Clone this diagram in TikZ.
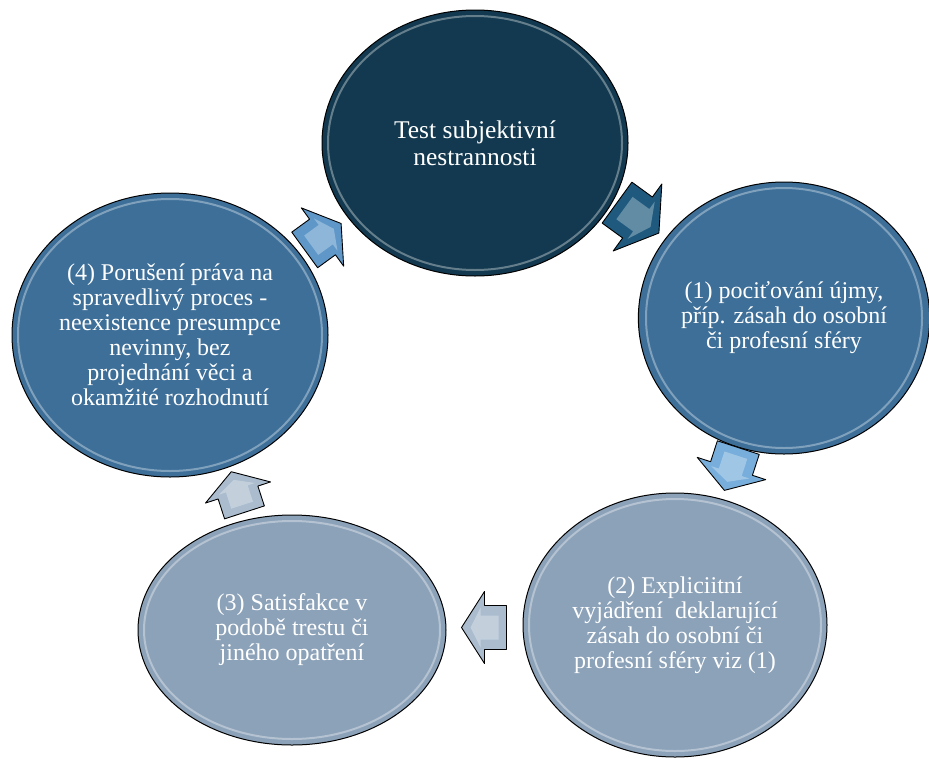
\documentclass[tikz,border=0pt]{standalone}
\usepackage{fontspec}
\setmainfont{Liberation Serif}
\usetikzlibrary{shapes.geometric,calc}

\definecolor{navy}{HTML}{12394F}
\definecolor{steel}{HTML}{3D6F99}
\definecolor{haze}{HTML}{8CA2B9}
\definecolor{arrdark}{HTML}{1F5A7E}
\definecolor{arrsky}{HTML}{78AEDB}
\definecolor{arrpale}{HTML}{AABCCE}
\definecolor{arrmid}{HTML}{5E97C8}

\tikzset{
  stage/.style={ellipse, draw=black, line width=1pt, text=white, align=center,
    inner sep=0pt, font=\fontsize{24}{25}\selectfont},
  rim/.style={draw=white, draw opacity=0.35, line width=2pt},
  blockarrow/.style={draw=black, line width=0.9pt, line join=round}
}

\begin{document}
\begin{tikzpicture}[x=1pt,y=-1pt]
  \useasboundingbox (0,0) rectangle (929,758);
  % Stages of the cycle
  \node[stage, fill=navy, minimum width=306pt, minimum height=266pt,
    font=\fontsize{25.5}{27}\selectfont] (test) at (475,143) {Test subjektivní\\nestrannosti};
  \node[stage, fill=steel, minimum width=288pt, minimum height=272pt] (one) at (784,318)
    {(1) pociťování újmy,\\příp. zásah do osobní\\či profesní sféry};
  \node[stage, fill=haze, minimum width=304pt, minimum height=264pt] (two) at (675,625)
    {(2) Expliciitní\\vyjádření~ deklarující\\zásah do osobní či\\profesní sféry viz (1)};
  \node[stage, fill=haze, minimum width=308pt, minimum height=230pt] (three) at (292,630)
    {(3) Satisfakce v\\podobě trestu či\\jiného opatření};
  \node[stage, fill=steel, minimum width=316pt, minimum height=284pt] (four) at (170,335)
    {(4) Porušení práva na\\spravedlivý proces -\\neexistence presumpce\\nevinny, bez\\projednání věci a\\okamžité rozhodnutí};
  % Glossy rims
  \foreach \n/\rx/\ry in {test/147/127, one/138/130, two/146/126, three/148/109, four/152/136}
    \draw[rim] (\n.center) ellipse [x radius=\rx, y radius=\ry];
  % Block arrows between stages
  \foreach \a/\b/\ang/\s/\col/\dx/\dy in {test/one/-36/1.15/arrdark/8/-13,
      one/two/-108/1/arrsky/2/-3, two/three/180/1/arrpale/1/0,
      three/four/108/0.95/arrpale/7/10, four/test/36/1/arrmid/0/-2}
  {
    \begin{scope}[shift={($(\a)!0.5!(\b)+(\dx,\dy)$)}, rotate=\ang, scale=\s]
      \draw[blockarrow, fill=\col] (-22,-22) -- (0,-22) -- (0,-36) -- (23,0)
        -- (0,36) -- (0,22) -- (-22,22) -- cycle;
      \fill[white, fill opacity=0.3] (-14,-12) -- (4,-12) -- (4,-20) -- (14,0)
        -- (4,20) -- (4,12) -- (-14,12) -- cycle;
    \end{scope}
  }
\end{tikzpicture}
\end{document}
